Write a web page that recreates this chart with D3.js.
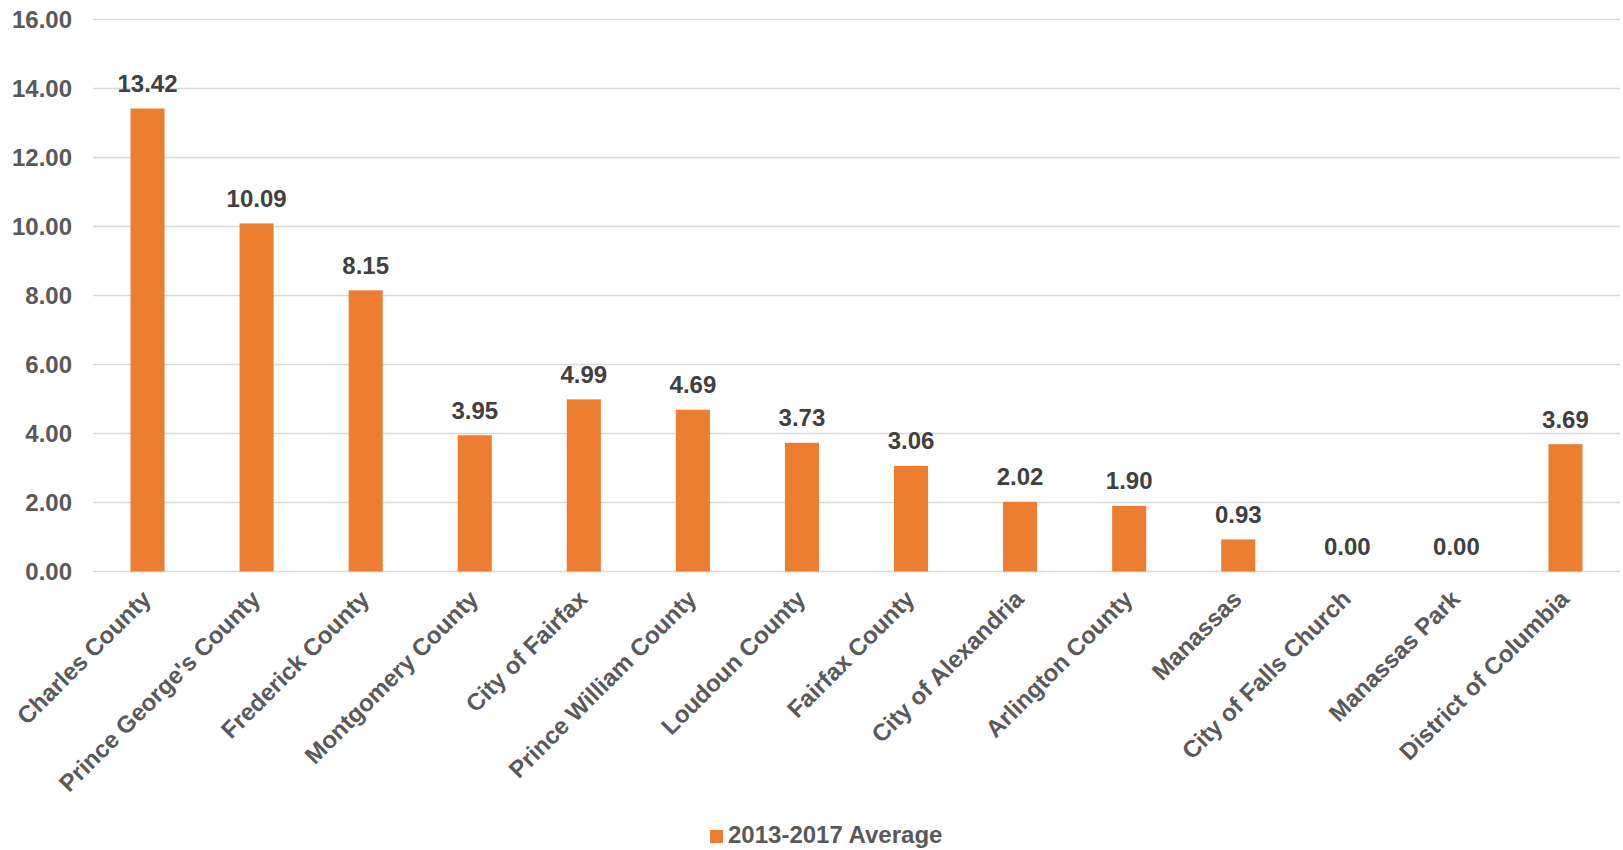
<!DOCTYPE html>
<html>
<head>
<meta charset="utf-8">
<script src="https://cdn.jsdelivr.net/npm/d3@7"></script>
<style>
  body { margin: 0; background: #fff; }
  svg { display: block; font-family: "Liberation Sans", Arial, sans-serif; font-weight: bold; }
</style>
</head>
<body>
<svg id="chart" width="1623" height="850"></svg>
<script>
const categories = ["Charles County", "Prince George's County", "Frederick County", "Montgomery County",
  "City of Fairfax", "Prince William County", "Loudoun County", "Fairfax County", "City of Alexandria",
  "Arlington County", "Manassas", "City of Falls Church", "Manassas Park", "District of Columbia"];
const values = [13.42, 10.09, 8.15, 3.95, 4.99, 4.69, 3.73, 3.06, 2.02, 1.90, 0.93, 0.00, 0.00, 3.69];
const yTicks = [0, 2, 4, 6, 8, 10, 12, 14, 16];
const seriesName = "2013-2017 Average";

(function () {
const svg = d3.select("#chart");
const mLeft = 93, mRight = 1620, mTop = 19.5, mBottom = 571.5;
const fontSize = 24;

const x = d3.scaleBand().domain(categories).range([mLeft, mRight]).padding(0);
const y = d3.scaleLinear().domain([0, 16]).range([mBottom, mTop]);
const barW = x.bandwidth() * 0.312;

// gridlines
svg.append("g").selectAll("line").data(yTicks).join("line")
  .attr("x1", mLeft).attr("x2", mRight)
  .attr("y1", d => y(d)).attr("y2", d => y(d))
  .attr("stroke", "#d9d9d9").attr("stroke-width", 1.5);

// y axis labels
const yAxis = d3.axisLeft(y).tickValues(yTicks).tickFormat(d3.format(".2f")).tickSize(0).tickPadding(0);
const ya = svg.append("g").attr("transform", `translate(72,0)`).call(yAxis);
ya.select(".domain").remove();
ya.selectAll("text").attr("fill", "#595959").style("font-size", fontSize + "px")
  .style("font-weight", "bold").style("font-family", "Liberation Sans, Arial, sans-serif");

// bars
svg.append("g").selectAll("rect").data(values).join("rect")
  .attr("x", (d, i) => x(categories[i]) + (x.bandwidth() - barW) / 2)
  .attr("width", barW)
  .attr("y", d => y(d))
  .attr("height", d => y(0) - y(d))
  .attr("fill", "#ED7D31");

// data labels
svg.append("g").selectAll("text").data(values).join("text")
  .attr("x", (d, i) => x(categories[i]) + x.bandwidth() / 2)
  .attr("y", d => y(d) - 16.5)
  .attr("text-anchor", "middle")
  .attr("fill", "#404040")
  .style("font-size", fontSize + "px")
  .text(d => d3.format(".2f")(d));

// x axis labels
const xAxis = d3.axisBottom(x).tickSize(0).tickPadding(0);
const xa = svg.append("g").attr("transform", `translate(0,${mBottom})`).call(xAxis);
xa.select(".domain").remove();
xa.selectAll("text")
  .attr("fill", "#595959")
  .style("font-size", fontSize + "px")
  .style("font-weight", "bold")
  .style("font-family", "Liberation Sans, Arial, sans-serif")
  .attr("text-anchor", "end")
  .attr("dy", null)
  .attr("y", 0)
  .attr("transform", "translate(5,29) rotate(-45)");

// legend
const lg = svg.append("g");
lg.append("rect").attr("x", 710).attr("y", 830).attr("width", 13).attr("height", 13).attr("fill", "#ED7D31");
lg.append("text").attr("x", 728).attr("y", 843).attr("fill", "#595959")
  .style("font-size", fontSize + "px").text(seriesName);
})();
</script>
</body>
</html>
